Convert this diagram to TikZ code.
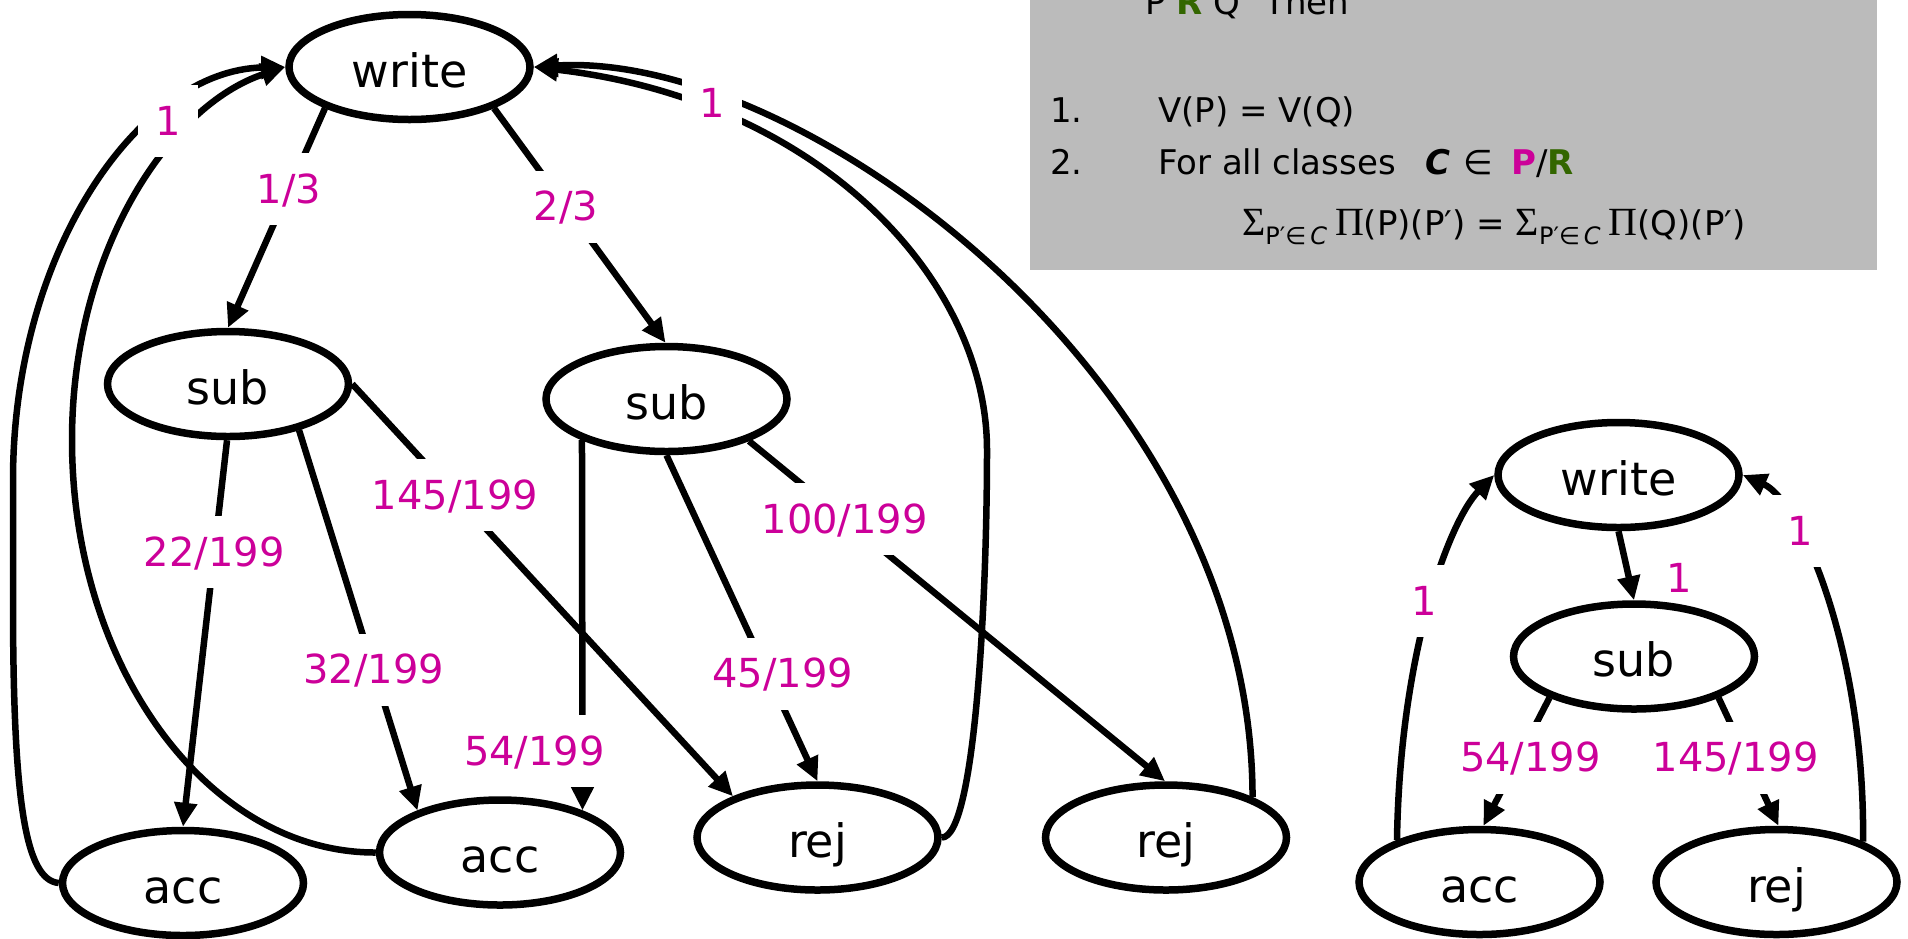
\documentclass[tikz,border=0pt]{standalone}
\usepackage{fontspec}
\setmainfont{DejaVu Sans}
\newfontfamily\symserif{Liberation Serif}
\usetikzlibrary{arrows.meta,shapes.geometric}
\definecolor{lblmag}{RGB}{204,0,153}
\definecolor{relgreen}{RGB}{51,102,0}
\definecolor{boxgray}{RGB}{187,187,187}
% subscript "P' in C" used in the sum formula
\newcommand{\classsub}{\raisebox{-9pt}{\fontsize{24}{24}\selectfont P′∈\,\textit{C}}}
\newcommand{\bigsym}[1]{{\symserif\fontsize{40}{40}\selectfont #1}}
\begin{document}
\begin{tikzpicture}[x=1pt,y=-1pt,
  state/.style={ellipse,draw,line width=7.5pt,minimum width=241pt,minimum height=105pt,
    inner sep=0pt,font=\fontsize{46}{50}\selectfont,text height=40pt,text depth=0pt},
  edge/.style={line width=6.5pt,-{Triangle[length=24pt,width=22pt]}},
  prob/.style={fill=white,text=lblmag,font=\fontsize{40}{44}\selectfont,
    inner xsep=17pt,inner ysep=14pt,text height=36pt,text depth=8pt},
  probtext/.style={text=lblmag,font=\fontsize{40}{44}\selectfont,inner sep=0pt},
  boxtxt/.style={anchor=base west,font=\fontsize{34}{38}\selectfont,inner sep=0pt}
]
\useasboundingbox (0,0) rectangle (1908,938);

% definition box
\fill[boxgray] (1030,-5) rectangle (1877,270);
\node[boxtxt] (hyp) at (1145,14) {P \textbf{\color{relgreen}R} Q\hspace{24pt}Then};
\node[boxtxt] (n1) at (1050,122) {1.};
\node[boxtxt] (c1) at (1158,122) {V(P) = V(Q)};
\node[boxtxt] (n2) at (1050,174) {2.};
\node[boxtxt] (c2) at (1158,174) {For all classes};
\node[boxtxt] (cls) at (1425,174) {\textbf{\textit{C}}};
\node[boxtxt] (elem) at (1463,174) {∈};
\node[boxtxt] (quot) at (1511,174) {\textbf{\color{lblmag}P}/\textbf{\color{relgreen}R}};
\node[boxtxt] (sums) at (1242,235) {\bigsym{Σ}\classsub\hspace{8pt}\bigsym{Π}(P)(P′) = \bigsym{Σ}\classsub\hspace{8pt}\bigsym{Π}(Q)(P′)};

% unreduced chain
\node[state] (w1) at (409.5,67) {write};
\node[state] (s1) at (228,384) {sub};
\node[state] (s2) at (666.5,399) {sub};
\node[state] (a1) at (183,883) {acc};
\node[state] (a2) at (500,852.5) {acc};
\node[state] (r1) at (817.5,837.5) {rej};
\node[state] (r2) at (1166,837.5) {rej};

\draw[edge] (w1.206) -- node[prob,pos=.37] (p13) {1/3} (s1.90);
\draw[edge] (w1.334) -- node[prob,pos=.42] (p23) {2/3} (s2.91);
\draw[edge] (s1.269) -- node[prob,pos=.29] (p22) {22/199} (a1.90);
\draw[edge] (s1.327) -- node[prob,pos=.63] (p32) {32/199} (a2.153);
\draw[edge] (s1.east) -- node[prob,pos=.27] (p145) {145/199} (r1.154);
\draw[edge] (s2.206) -- node[prob,pos=.84,xshift=-48pt] (p54) {54/199} (a2.27);
\draw[edge] (s2.270) -- node[prob,pos=.67,xshift=15pt] (p45) {45/199} (r1.90);
\draw[edge] (s2.333) -- node[prob,pos=.23] (p100) {100/199} (r2.91);

% returns to write
\draw[edge] (a1.west) .. controls (25,880) and (13,800) .. (13,600) -- (13,480)
  .. controls (13,250) and (140,70) .. (w1.west);
\draw[edge] (a2.west) .. controls (209,853) and (72,668) .. (72,440)
  .. controls (72,250) and (170,105) .. (w1.west);
\node[prob] (back1) at (168,121) {1};
\draw[edge] (r1.east) .. controls (975,838) and (987,600) .. (987,450)
  .. controls (987,280) and (820,100) .. (w1.east);
\draw[edge] (r2.25) .. controls (1252,380) and (800,50) .. (w1.east);
\node[prob] (back2) at (712,103) {1};

% reduced chain
\node[state] (w3) at (1618.5,475) {write};
\node[state] (s3) at (1634,656.5) {sub};
\node[state] (a3) at (1479.5,882) {acc};
\node[state] (r3) at (1776.5,882) {rej};

\draw[edge] (w3.270) -- node[probtext,pos=.67,xshift=50pt] (q1) {1} (s3.90);
\draw[edge] (s3.206) -- node[prob,pos=.47,xshift=12pt] (q54) {54/199} (a3.86);
\draw[edge] (s3.334) -- node[prob,pos=.47,xshift=-11pt] (q145) {145/199} (r3.88);
\draw[edge] (a3.153) .. controls (1400,650) and (1450,520) .. (w3.west);
\node[prob] (back3) at (1424,601) {1};
\draw[edge] (r3.25) .. controls (1865,650) and (1800,500) .. (w3.east);
\node[prob] (back4) at (1800,531) {1};
\end{tikzpicture}
\end{document}
